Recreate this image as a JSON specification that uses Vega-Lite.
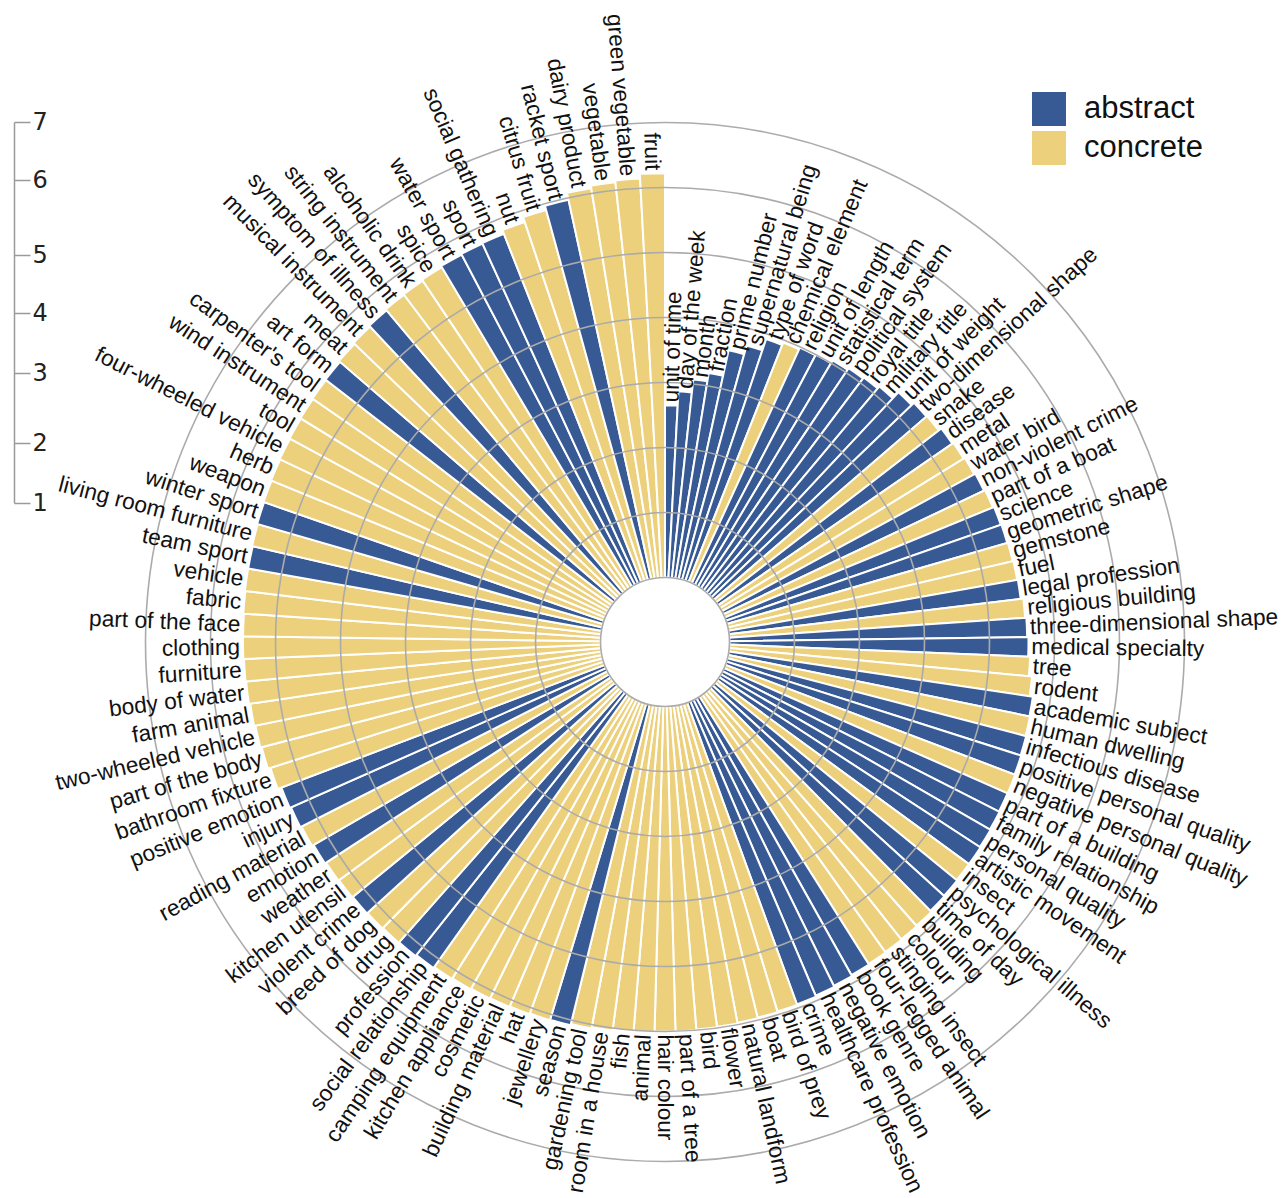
{
  "$schema": "https://vega.github.io/schema/vega-lite/v6.json",
  "width": 1236,
  "height": 1112,
  "autosize": {"type": "none"},
  "padding": {"left": 47, "top": 86, "right": 0, "bottom": 0},
  "background": "white",
  "config": {"view": {"stroke": null}, "font": "Liberation Sans"},
  "data": {
    "values": [
      {"category": "unit of time", "value": 2.65, "type": "abstract"},
      {"category": "day of the week", "value": 2.87, "type": "abstract"},
      {"category": "month", "value": 3.07, "type": "abstract"},
      {"category": "fraction", "value": 3.2, "type": "abstract"},
      {"category": "prime number", "value": 3.6, "type": "abstract"},
      {"category": "supernatural being", "value": 3.74, "type": "abstract"},
      {"category": "type of word", "value": 3.92, "type": "abstract"},
      {"category": "chemical element", "value": 3.96, "type": "concrete"},
      {"category": "religion", "value": 3.99, "type": "abstract"},
      {"category": "unit of length", "value": 4.0, "type": "abstract"},
      {"category": "statistical term", "value": 4.05, "type": "abstract"},
      {"category": "political system", "value": 4.08, "type": "abstract"},
      {"category": "royal title", "value": 4.1, "type": "abstract"},
      {"category": "military title", "value": 4.14, "type": "abstract"},
      {"category": "unit of weight", "value": 4.27, "type": "abstract"},
      {"category": "two-dimensional shape", "value": 4.32, "type": "abstract"},
      {"category": "snake", "value": 4.33, "type": "concrete"},
      {"category": "disease", "value": 4.38, "type": "abstract"},
      {"category": "metal", "value": 4.4, "type": "concrete"},
      {"category": "water bird", "value": 4.42, "type": "concrete"},
      {"category": "non-violent crime", "value": 4.44, "type": "abstract"},
      {"category": "part of a boat", "value": 4.46, "type": "concrete"},
      {"category": "science", "value": 4.48, "type": "abstract"},
      {"category": "geometric shape", "value": 4.49, "type": "abstract"},
      {"category": "gemstone", "value": 4.5, "type": "concrete"},
      {"category": "fuel", "value": 4.51, "type": "concrete"},
      {"category": "legal profession", "value": 4.52, "type": "abstract"},
      {"category": "religious building", "value": 4.56, "type": "concrete"},
      {"category": "three-dimensional shape", "value": 4.58, "type": "abstract"},
      {"category": "medical specialty", "value": 4.6, "type": "abstract"},
      {"category": "tree", "value": 4.63, "type": "concrete"},
      {"category": "rodent", "value": 4.68, "type": "concrete"},
      {"category": "academic subject", "value": 4.73, "type": "abstract"},
      {"category": "human dwelling", "value": 4.74, "type": "concrete"},
      {"category": "infectious disease", "value": 4.75, "type": "abstract"},
      {"category": "positive personal quality", "value": 4.76, "type": "abstract"},
      {"category": "negative personal quality", "value": 4.77, "type": "concrete"},
      {"category": "part of a building", "value": 4.77, "type": "abstract"},
      {"category": "family relationship", "value": 4.78, "type": "abstract"},
      {"category": "personal quality", "value": 4.79, "type": "abstract"},
      {"category": "artistic movement", "value": 4.8, "type": "abstract"},
      {"category": "insect", "value": 4.8, "type": "concrete"},
      {"category": "psychological illness", "value": 4.81, "type": "abstract"},
      {"category": "time of day", "value": 4.82, "type": "abstract"},
      {"category": "building", "value": 4.84, "type": "concrete"},
      {"category": "colour", "value": 4.85, "type": "concrete"},
      {"category": "stinging insect", "value": 4.86, "type": "concrete"},
      {"category": "four-legged animal", "value": 4.87, "type": "concrete"},
      {"category": "book genre", "value": 4.88, "type": "abstract"},
      {"category": "negative emotion", "value": 4.9, "type": "abstract"},
      {"category": "healthcare profession", "value": 4.92, "type": "abstract"},
      {"category": "crime", "value": 4.94, "type": "abstract"},
      {"category": "bird of prey", "value": 4.95, "type": "concrete"},
      {"category": "boat", "value": 4.96, "type": "concrete"},
      {"category": "natural landform", "value": 4.97, "type": "concrete"},
      {"category": "flower", "value": 4.98, "type": "concrete"},
      {"category": "bird", "value": 4.99, "type": "concrete"},
      {"category": "part of a tree", "value": 5.0, "type": "concrete"},
      {"category": "hair colour", "value": 5.0, "type": "concrete"},
      {"category": "animal", "value": 5.01, "type": "concrete"},
      {"category": "fish", "value": 5.02, "type": "concrete"},
      {"category": "room in a house", "value": 5.04, "type": "concrete"},
      {"category": "gardening tool", "value": 5.06, "type": "concrete"},
      {"category": "season", "value": 5.08, "type": "abstract"},
      {"category": "jewellery", "value": 5.09, "type": "concrete"},
      {"category": "hat", "value": 5.1, "type": "concrete"},
      {"category": "building material", "value": 5.11, "type": "concrete"},
      {"category": "cosmetic", "value": 5.12, "type": "concrete"},
      {"category": "kitchen appliance", "value": 5.13, "type": "concrete"},
      {"category": "camping equipment", "value": 5.14, "type": "concrete"},
      {"category": "social relationship", "value": 5.16, "type": "abstract"},
      {"category": "profession", "value": 5.18, "type": "abstract"},
      {"category": "drug", "value": 5.19, "type": "concrete"},
      {"category": "breed of dog", "value": 5.2, "type": "concrete"},
      {"category": "violent crime", "value": 5.21, "type": "abstract"},
      {"category": "kitchen utensil", "value": 5.22, "type": "concrete"},
      {"category": "weather", "value": 5.23, "type": "concrete"},
      {"category": "emotion", "value": 5.25, "type": "abstract"},
      {"category": "reading material", "value": 5.28, "type": "concrete"},
      {"category": "injury", "value": 5.3, "type": "abstract"},
      {"category": "positive emotion", "value": 5.32, "type": "abstract"},
      {"category": "bathroom fixture", "value": 5.38, "type": "concrete"},
      {"category": "part of the body", "value": 5.42, "type": "concrete"},
      {"category": "two-wheeled vehicle", "value": 5.44, "type": "concrete"},
      {"category": "farm animal", "value": 5.46, "type": "concrete"},
      {"category": "body of water", "value": 5.48, "type": "concrete"},
      {"category": "furniture", "value": 5.49, "type": "concrete"},
      {"category": "clothing", "value": 5.5, "type": "concrete"},
      {"category": "part of the face", "value": 5.5, "type": "concrete"},
      {"category": "fabric", "value": 5.51, "type": "concrete"},
      {"category": "vehicle", "value": 5.52, "type": "concrete"},
      {"category": "team sport", "value": 5.52, "type": "abstract"},
      {"category": "living room furniture", "value": 5.53, "type": "concrete"},
      {"category": "winter sport", "value": 5.54, "type": "abstract"},
      {"category": "weapon", "value": 5.55, "type": "concrete"},
      {"category": "herb", "value": 5.56, "type": "concrete"},
      {"category": "four-wheeled vehicle", "value": 5.57, "type": "concrete"},
      {"category": "tool", "value": 5.58, "type": "concrete"},
      {"category": "wind instrument", "value": 5.59, "type": "concrete"},
      {"category": "carpenter's tool", "value": 5.6, "type": "concrete"},
      {"category": "art form", "value": 5.61, "type": "abstract"},
      {"category": "meat", "value": 5.63, "type": "concrete"},
      {"category": "musical instrument", "value": 5.65, "type": "concrete"},
      {"category": "symptom of illness", "value": 5.67, "type": "abstract"},
      {"category": "string instrument", "value": 5.69, "type": "concrete"},
      {"category": "alcoholic drink", "value": 5.7, "type": "concrete"},
      {"category": "spice", "value": 5.72, "type": "concrete"},
      {"category": "water sport", "value": 5.74, "type": "abstract"},
      {"category": "sport", "value": 5.75, "type": "abstract"},
      {"category": "social gathering", "value": 5.76, "type": "abstract"},
      {"category": "nut", "value": 5.82, "type": "concrete"},
      {"category": "citrus fruit", "value": 5.9, "type": "concrete"},
      {"category": "racket sport", "value": 5.97, "type": "abstract"},
      {"category": "dairy product", "value": 6.08, "type": "concrete"},
      {"category": "vegetable", "value": 6.12, "type": "concrete"},
      {"category": "green vegetable", "value": 6.15, "type": "concrete"},
      {"category": "fruit", "value": 6.22, "type": "concrete"}
    ]
  },
  "transform": [{"window": [{"op": "row_number", "as": "rank"}]}],
  "layer": [
    {
      "mark": {"type": "arc", "stroke": "white", "strokeWidth": 2},
      "encoding": {
        "theta": {"field": "category", "type": "nominal", "sort": null, "scale": {"type": "band", "paddingInner": 0, "paddingOuter": 0}},
        "radius": {"field": "value", "type": "quantitative", "stack": null, "scale": {"type": "linear", "domain": [0, 7], "range": [64.5, 519.5], "zero": false, "nice": false}},
        "radius2": {"datum": 0},
        "color": {
          "field": "type", "type": "nominal",
          "scale": {"domain": ["abstract", "concrete"], "range": ["#385a94", "#edd07b"]},
          "legend": {"orient": "none", "legendX": 985, "legendY": 6, "title": null, "symbolType": "square", "symbolSize": 1156, "labelFontSize": 31, "labelFont": "Liberation Sans", "labelColor": "#111", "symbolStrokeWidth": 0, "symbolStrokeColor": "transparent", "rowPadding": 5, "labelOffset": 18, "padding": 0}
        }
      }
    },
    {
      "data": {"values": [{"g": 0}, {"g": 1}, {"g": 2}, {"g": 3}, {"g": 4}, {"g": 5}, {"g": 6}, {"g": 7}]},
      "mark": {"type": "arc", "filled": false, "stroke": "#ababab", "strokeWidth": 1.6, "theta": 0, "theta2": 6.2832},
      "encoding": {
        "radius": {"field": "g", "type": "quantitative", "stack": null},
        "radius2": {"field": "g"}
      }
    },
    {
      "mark": {"type": "text", "align": "left", "baseline": "middle", "radiusOffset": 3, "fontSize": 22.7, "font": "Liberation Sans", "color": "#111"},
      "encoding": {
        "theta": {"field": "category", "type": "nominal", "sort": null},
        "radius": {"field": "value", "type": "quantitative", "stack": null},
        "text": {"condition": {"test": "datum.rank <= 59", "field": "category"}, "value": ""},
        "angle": {"field": "rank", "type": "quantitative", "scale": {"domain": [0.5, 59.25, 59.2501, 117.5], "range": [-90, 90.769, -89.231, 90], "zero": false, "nice": false}, "legend": null}
      }
    },
    {
      "mark": {"type": "text", "align": "right", "baseline": "middle", "radiusOffset": 3, "fontSize": 22.7, "font": "Liberation Sans", "color": "#111"},
      "encoding": {
        "theta": {"field": "category", "type": "nominal", "sort": null},
        "radius": {"field": "value", "type": "quantitative", "stack": null},
        "text": {"condition": {"test": "datum.rank > 59", "field": "category"}, "value": ""},
        "angle": {"field": "rank", "type": "quantitative", "legend": null}
      }
    },
    {
      "data": {"values": [{"t": 1}, {"t": 2}, {"t": 3}, {"t": 4}, {"t": 5}, {"t": 6}, {"t": 7}]},
      "mark": {"type": "point", "opacity": 0},
      "encoding": {
        "y": {
          "field": "t", "type": "quantitative",
          "scale": {"type": "linear", "domain": [1, 2, 3, 4, 5, 6, 7], "range": [417, 357, 287, 227, 169, 94, 36], "zero": false, "nice": false},
          "axis": {"title": null, "values": [1, 2, 3, 4, 5, 6, 7], "format": "d", "orient": "left", "offset": 33, "grid": false, "domainColor": "#9a9a9a", "domainWidth": 1.5, "tickColor": "#9a9a9a", "tickWidth": 1.5, "tickSize": -16, "labelPadding": -2, "labelAlign": "left", "labelBaseline": "middle", "labelFontSize": 24, "labelFont": "DejaVu Sans", "labelColor": "#222"}
        }
      }
    }
  ]
}
